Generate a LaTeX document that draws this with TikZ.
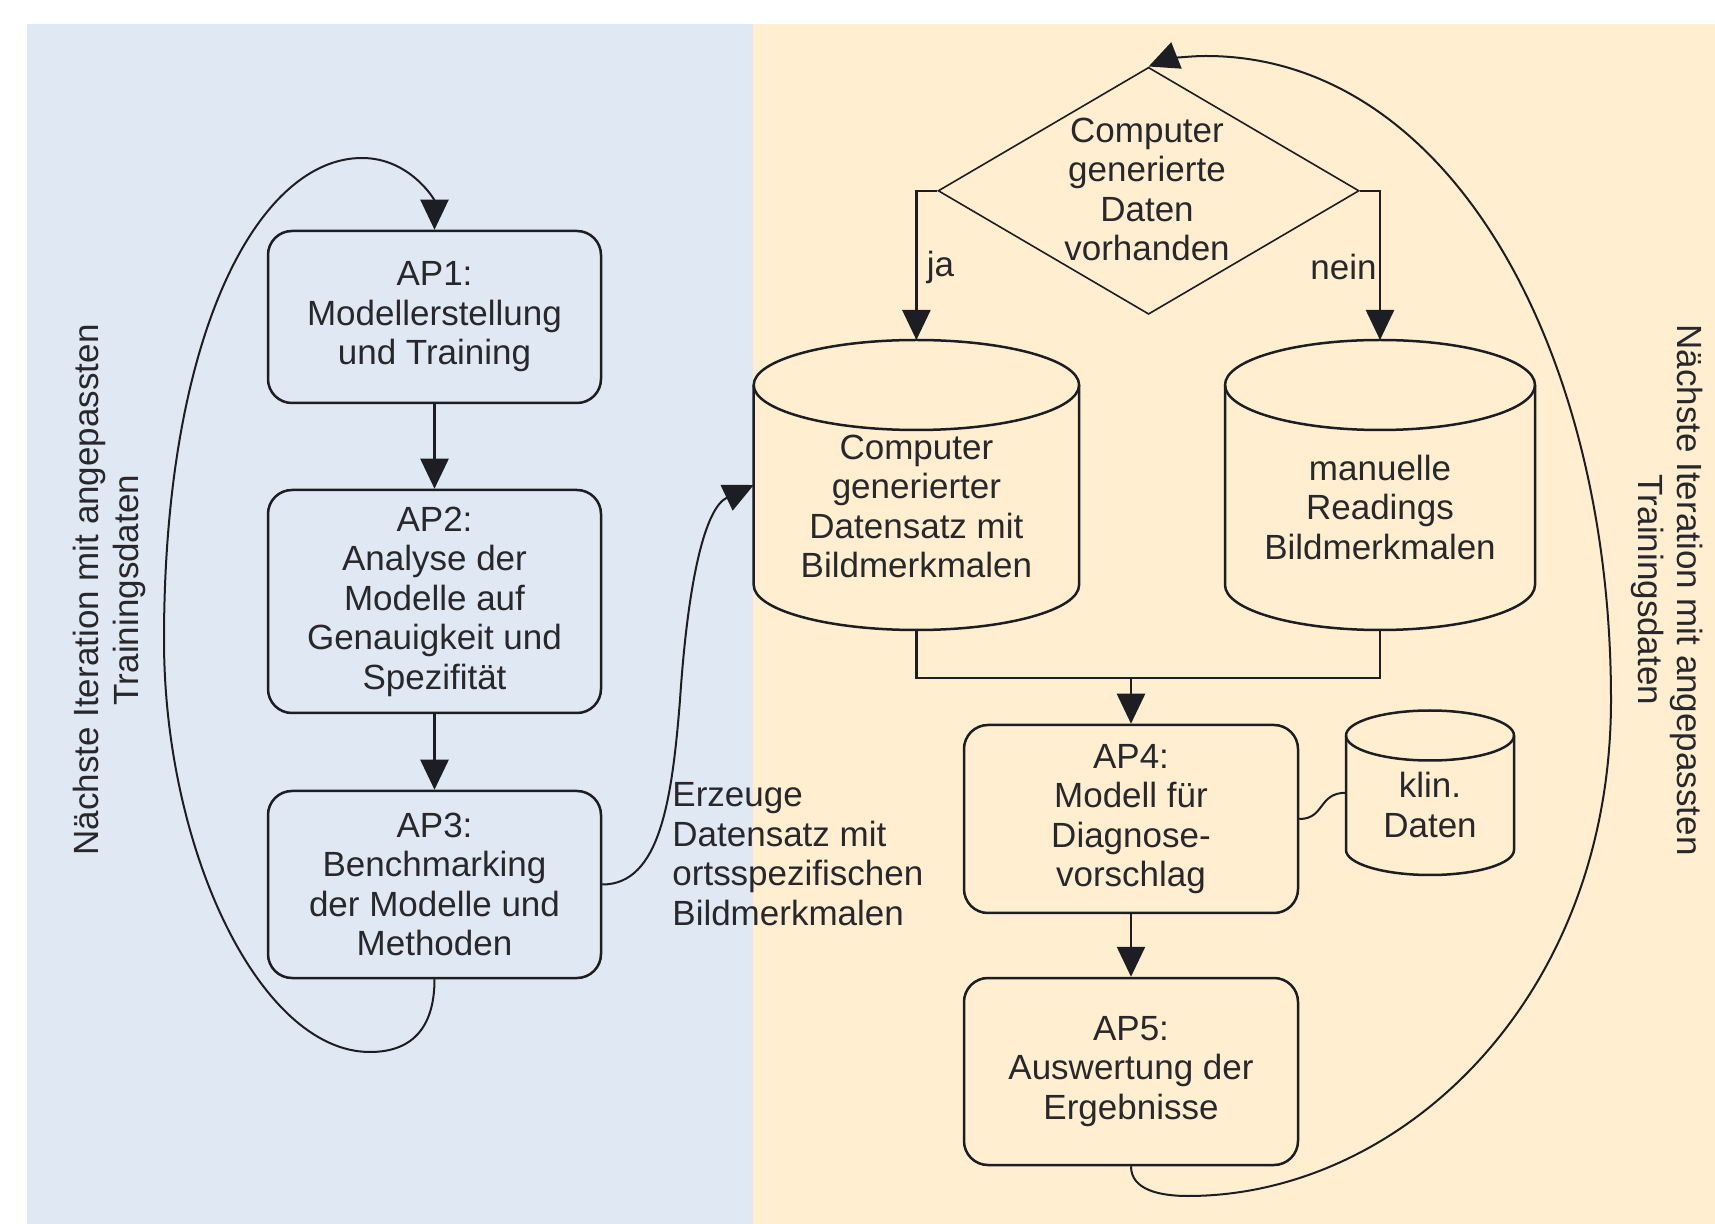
\documentclass[tikz,border=0pt]{standalone}
\usepackage{fontspec}
\setmainfont{Liberation Sans}
\usetikzlibrary{arrows.meta,shapes.geometric}
\definecolor{bgblue}{RGB}{224,232,244}
\definecolor{bgyellow}{RGB}{255,239,208}
\definecolor{ink}{RGB}{28,30,36}
\definecolor{txt}{RGB}{40,40,44}
\begin{document}
\begin{tikzpicture}[x=0.5pt,y=-0.5pt,
  every node/.style={font=\fontsize{17.5pt}{19.75pt}\selectfont, text=txt},
  apbox/.style={draw=ink, line width=1.25pt, rounded corners=12pt, align=center, minimum width=166.5pt, inner sep=0pt},
  ghost/.style={inner sep=0pt, outer sep=0pt, draw=none},
  cylline/.style={draw=ink, line width=1.25pt},
  conn/.style={draw=ink, line width=1.25pt},
  arr/.style={draw=ink, line width=1.25pt, -{Triangle[length=15pt,width=14pt]}},
  curvearr/.style={draw=ink, line width=1pt, -{Triangle[length=15pt,width=14pt]}},
  curveline/.style={draw=ink, line width=1pt},
  lbl/.style={align=center, inner sep=0pt}
]
% background panels
\fill[bgblue] (27,24) rectangle (753,1224);
\fill[bgyellow] (753,24) rectangle (1715,1224);
\useasboundingbox (0,0) rectangle (1715,1224);

% left column boxes
\node[apbox, minimum height=86pt] (ap1) at (434.5,317) {AP1:\\Modellerstellung\\und Training};
\node[apbox, minimum height=111.5pt] (ap2) at (434.5,601.5) {AP2:\\Analyse der\\Modelle auf\\Genauigkeit und\\Spezifität};
\node[apbox, minimum height=93.5pt] (ap3) at (434.5,884.5) {AP3:\\Benchmarking\\der Modelle und\\Methoden};

% right column boxes
\node[apbox, minimum height=94pt, minimum width=167pt] (ap4) at (1131,819) {AP4:\\Modell für\\Diagnose-\\vorschlag};
\node[apbox, minimum height=93.5pt, minimum width=167pt] (ap5) at (1131,1071.5) {AP5:\\Auswertung der\\Ergebnisse};

% decision diamond
\node[diamond, draw=ink, line width=0.8pt, minimum width=210.5pt, minimum height=123.5pt, inner sep=0pt] (dec) at (1148.6,190.8) {};
\node[lbl] (dect) at (1147,189.5) {Computer\\generierte\\Daten\\vorhanden};

% cylinders (outline boxes for anchors)
\node[ghost, minimum width=162.7pt, minimum height=145pt] (cyl1) at (916.4,485) {};
\node[ghost, minimum width=155pt, minimum height=145pt] (cyl2) at (1380,485) {};
\node[ghost, minimum width=84pt, minimum height=82.25pt] (klin) at (1430,792.75) {};

\draw[cylline] (753.7,385) -- (753.7,585) arc[start angle=180,end angle=360,x radius=81.35pt,y radius=22.5pt] -- (1079.1,385) arc[start angle=0,end angle=180,x radius=81.35pt,y radius=22.5pt] -- cycle;
\draw[cylline] (753.7,385) arc[start angle=180,end angle=360,x radius=81.35pt,y radius=22.5pt];

\draw[cylline] (1225,385) -- (1225,585) arc[start angle=180,end angle=360,x radius=77.5pt,y radius=22.5pt] -- (1535,385) arc[start angle=0,end angle=180,x radius=77.5pt,y radius=22.5pt] -- cycle;
\draw[cylline] (1225,385) arc[start angle=180,end angle=360,x radius=77.5pt,y radius=22.5pt];

\draw[cylline] (1346,735.5) -- (1346,850) arc[start angle=180,end angle=360,x radius=42pt,y radius=12.5pt] -- (1514,735.5) arc[start angle=0,end angle=180,x radius=42pt,y radius=12.5pt] -- cycle;
\draw[cylline] (1346,735.5) arc[start angle=180,end angle=360,x radius=42pt,y radius=12.5pt];

\node[lbl] (cyl1t) at (916.4,506.5) {Computer\\generierter\\Datensatz mit\\Bildmerkmalen};
\node[lbl] (cyl2t) at (1380,507) {manuelle\\Readings\\Bildmerkmalen};
\node[lbl] (klint) at (1430,805) {klin.\\Daten};

% labels
\node[inner sep=0pt, anchor=west] (ja) at (926.5,267) {ja};
\node[inner sep=0pt, anchor=east] (nein) at (1377,267) {nein};
\node[inner sep=0pt, anchor=west, align=left] (erz) at (672,854) {Erzeuge\\Datensatz mit\\ortsspezifischen\\Bildmerkmalen};
\node[lbl, rotate=90] (leftlbl) at (109.5,590) {Nächste Iteration mit angepassten\\Trainingsdaten};
\node[lbl, rotate=-90] (rightlbl) at (1667,590) {Nächste Iteration mit angepassten\\Trainingsdaten};

% straight connectors
\draw[arr] (ap1.south) -- (ap2.north);
\draw[arr] (ap2.south) -- (ap3.north);
\draw[arr] (dec.west) -| (cyl1.north);
\draw[arr] (dec.east) -| (cyl2.north);
\coordinate (merge) at (1131,678);
\draw[conn] (cyl1.south) |- (merge) -| (cyl2.south);
\draw[arr] (merge) -- (ap4.north);
\draw[arr] (ap4.south) -- (ap5.north);
\draw[curveline] (ap4.east) .. controls (1325,819) and (1318,792.75) .. (klin.west);

% curved connectors
\draw[curvearr] (ap3.south) .. controls (434.5,1030) and (410,1052) .. (370,1052)
  .. controls (260,1052) and (164,850) .. (164,640)
  .. controls (164,330) and (260,158) .. (362,158)
  .. controls (410,158) and (434.5,200) .. (ap1.north);
\draw[curvearr] (ap3.east) .. controls (660,884.5) and (672,800) .. (680,700)
  .. controls (688,580) and (705,508) .. (cyl1.west);
\draw[curvearr] (ap5.south) .. controls (1131,1190) and (1160,1196) .. (1188,1196)
  .. controls (1400,1196) and (1611,1000) .. (1611,700)
  .. controls (1611,350) and (1450,56) .. (1206,56)
  .. controls (1185,56) and (1165,60) .. (dec.north);
\end{tikzpicture}
\end{document}
